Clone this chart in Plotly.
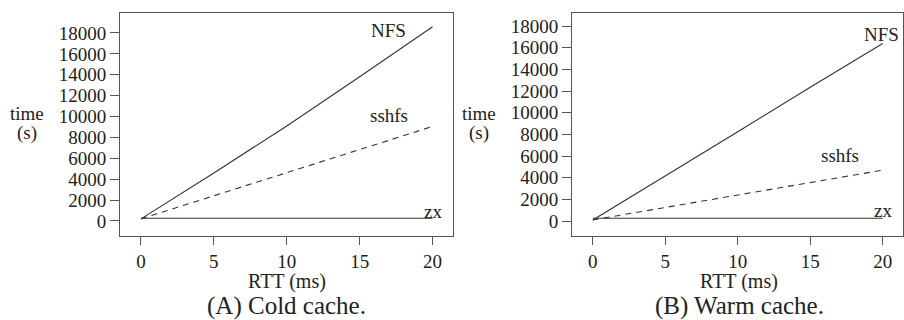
import plotly.graph_objects as go
from plotly.subplots import make_subplots

rtt = [0, 5, 10, 15, 20]
cold_nfs = [200, 4600, 9100, 13800, 18600]
cold_sshfs = [200, 2400, 4650, 6800, 9050]
cold_zx = [260, 260, 260, 260, 260]
warm_nfs = [100, 4150, 8250, 12350, 16400]
warm_sshfs = [100, 1250, 2350, 3550, 4700]
warm_zx = [250, 250, 250, 250, 250]
yticks = [0, 2000, 4000, 6000, 8000, 10000, 12000, 14000, 16000, 18000]
ytick_text = ["0", "2000", "4000", "6000", "8000", "10000", "12000", "14000", "16000", "18000"]
xticks = [0, 5, 10, 15, 20]

FONT = "Times New Roman"
LC = "#333333"
TC = "#222222"

fig = make_subplots(rows=1, cols=2)
panels = [
    (1, cold_nfs, cold_sshfs, cold_zx, [-1440, 19900],
     [(17.0, 18200, "NFS"), (17.0, 10100, "sshfs"), (20.05, 950, "zx")]),
    (2, warm_nfs, warm_sshfs, warm_zx, [-1385, 19200],
     [(19.9, 17200, "NFS"), (17.05, 6050, "sshfs"), (20.0, 950, "zx")]),
]
for col, nfs, sshfs, zx, yr, labels in panels:
    fig.add_trace(go.Scatter(x=rtt, y=nfs, mode="lines", line=dict(color=LC, width=1.1)), row=1, col=col)
    fig.add_trace(go.Scatter(x=rtt, y=sshfs, mode="lines", line=dict(color=LC, width=1.1, dash="6px,5px")), row=1, col=col)
    fig.add_trace(go.Scatter(x=rtt, y=zx, mode="lines", line=dict(color=LC, width=1.1)), row=1, col=col)
    xa = "x" if col == 1 else "x2"
    ya = "y" if col == 1 else "y2"
    for lx, ly, t in labels:
        fig.add_annotation(x=lx, y=ly, xref=xa, yref=ya, text=t, showarrow=False,
                           font=dict(family=FONT, size=19, color=TC))
    fig.update_xaxes(range=[-1.44, 21.4], tickvals=xticks, row=1, col=col)
    fig.update_yaxes(range=yr, tickvals=yticks, ticktext=ytick_text, row=1, col=col)

fig.update_xaxes(showgrid=False, zeroline=False, showline=True, mirror=True, linecolor="#555555",
                 linewidth=1, ticks="outside", ticklen=8, tickcolor="#555555",
                 tickfont=dict(family=FONT, size=19, color=TC))
fig.update_yaxes(showgrid=False, zeroline=False, showline=True, mirror=True, linecolor="#555555",
                 linewidth=1, ticks="outside", ticklen=9, tickcolor="#555555",
                 tickfont=dict(family=FONT, size=19, color=TC))
fig.update_layout(
    xaxis=dict(domain=[0.1327, 0.5011]),
    xaxis2=dict(domain=[0.6327, 0.9989]),
    yaxis=dict(domain=[0.2625, 0.959]),
    yaxis2=dict(domain=[0.2625, 0.959]),
)

for cx, ytx, cap in [(286.5 / 904, 27 / 904, "(A) Cold cache."), (739 / 904, 479 / 904, "(B) Warm cache.")]:
    fig.add_annotation(x=cx, y=(320 - 281) / 320, xref="paper", yref="paper", text="RTT (ms)", showarrow=False,
                       font=dict(family=FONT, size=20, color=TC), xanchor="center", yanchor="middle")
    fig.add_annotation(x=cx, y=(320 - 306) / 320, xref="paper", yref="paper", text=cap, showarrow=False,
                       font=dict(family=FONT, size=25, color=TC), xanchor="center", yanchor="middle")
    fig.add_annotation(x=ytx, y=(320 - 113) / 320, xref="paper", yref="paper", text="time", showarrow=False,
                       font=dict(family=FONT, size=19, color=TC), xanchor="center", yanchor="middle")
    fig.add_annotation(x=ytx, y=(320 - 133) / 320, xref="paper", yref="paper", text="(s)", showarrow=False,
                       font=dict(family=FONT, size=19, color=TC), xanchor="center", yanchor="middle")

fig.update_layout(width=904, height=320, margin=dict(l=0, r=0, t=0, b=0), showlegend=False,
                  font=dict(family=FONT), paper_bgcolor="white", plot_bgcolor="white")
fig.write_html("out.html")
